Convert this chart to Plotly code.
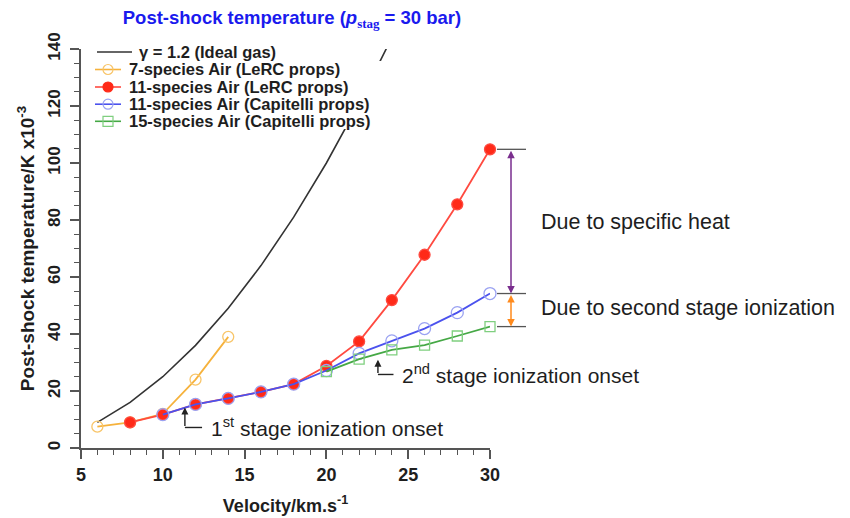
import plotly.graph_objects as go

# Post-shock temperature (thousands of K) vs shock velocity (km/s)
v_ideal = [6, 8, 10, 12, 14, 16, 18, 20, 22, 24]
t_ideal = [9, 16, 25, 36, 49, 64, 81, 100, 121, 144]

v_7sp = [6, 8, 10, 12, 14]
t_7sp = [7.5, 9.0, 12.0, 24.0, 39.0]

v_11lerc = [8, 10, 12, 14, 16, 18, 20, 22, 24, 26, 28, 30]
t_11lerc = [9.0, 11.7, 15.3, 17.4, 19.7, 22.4, 28.8, 37.4, 51.9, 67.8, 85.5, 104.8]

v_11cap = [10, 12, 14, 16, 18, 20, 22, 24, 26, 28, 30]
t_11cap = [11.7, 15.3, 17.4, 19.7, 22.4, 27.2, 33.2, 37.6, 41.9, 47.5, 54.2]

v_15cap = [20, 22, 24, 26, 28, 30]
t_15cap = [26.8, 31.2, 34.4, 36.1, 39.3, 42.6]

x_ticks = [5, 10, 15, 20, 25, 30]
y_ticks = [0, 20, 40, 60, 80, 100, 120, 140]

FONT = "Liberation Sans, Arial, sans-serif"
TXT = "#1e1e1e"
AX = "#555555"

# series styles: (name, x, y, line colour, marker symbol, marker colour, marker size)
series = [
    ("γ = 1.2 (Ideal gas)", v_ideal, t_ideal, "#333333", None, None, 0),
    ("7-species Air (LeRC props)", v_7sp, t_7sp, "#f6b23c", "circle-open", "#f8c569", 11),
    ("11-species Air (LeRC props)", v_11lerc, t_11lerc, "#ff4a40", "circle", "#ff2a18", 11),
    ("11-species Air (Capitelli props)", v_11cap, t_11cap, "#4b52ee", "circle-open", "#9aa2f2", 12),
    ("15-species Air (Capitelli props)", v_15cap, t_15cap, "#45a845", "square-open", "#7fcf7f", 10),
]

fig = go.Figure()
for name, xs, ys, lc, sym, mc, ms in series:
    if sym is None:
        fig.add_trace(go.Scatter(x=xs, y=ys, mode="lines", name=name,
                                 line=dict(color=lc, width=1.6), cliponaxis=True))
    else:
        fig.add_trace(go.Scatter(x=xs, y=ys, mode="lines+markers", name=name,
                                 line=dict(color=lc, width=1.8),
                                 marker=dict(symbol=sym, size=ms, color=mc, line=dict(width=1.3)),
                                 cliponaxis=False))

# plot area geometry in pixels
L, R, T, B = 81, 490, 49, 448
def px(p):
    return (p - L) / (R - L)
def py(p):
    return (B - p) / (B - T)

shapes = []
annotations = []

# key box (opaque, sits over the ideal-gas curve)
shapes.append(dict(type="rect", xref="paper", yref="paper", layer="above",
                   x0=px(92), x1=px(394), y0=py(129), y1=py(61),
                   fillcolor="white", line=dict(width=0)))
key_rows = [52, 69.5, 87, 104.2, 121.3]
for (name, xs, ys, lc, sym, mc, ms), yr in zip(series, key_rows):
    if sym is None:
        x0, x1, xt = 97, 132, 138
    else:
        x0, x1, xt = 95, 121, 128
    shapes.append(dict(type="line", xref="paper", yref="paper", layer="above",
                       x0=px(x0), x1=px(x1), y0=py(yr), y1=py(yr),
                       line=dict(color=lc, width=1.6)))
    if sym is not None:
        r = 5
        filled = not sym.endswith("open")
        shapes.append(dict(type="rect" if sym.startswith("square") else "circle",
                           xref="paper", yref="paper", layer="above",
                           xsizemode="pixel", ysizemode="pixel",
                           xanchor=px(108), yanchor=py(yr),
                           x0=-r, x1=r, y0=-r, y1=r,
                           fillcolor=mc if filled else "rgba(255,255,255,0)",
                           line=dict(color=mc, width=1.2)))
    annotations.append(dict(xref="paper", yref="paper", x=px(xt), y=py(yr),
                            xanchor="left", yanchor="middle", text=name, showarrow=False,
                            borderpad=0,
                            font=dict(family=FONT, size=16.5, color=TXT, weight="bold")))

# reference lines at the end values of the three 30 km/s results
for yv in (t_11lerc[-1], t_11cap[-1], t_15cap[-1]):
    shapes.append(dict(type="line", xref="paper", yref="y",
                       x0=px(497), x1=px(526), y0=yv, y1=yv,
                       line=dict(color=AX, width=1.3)))

# double-headed arrows between the end values
annotations.append(dict(xref="paper", yref="y", x=px(511), y=t_11cap[-1],
                        axref="pixel", ayref="y", ax=0, ay=t_11lerc[-1],
                        text="", showarrow=True, arrowside="end+start",
                        arrowhead=2, arrowsize=1, arrowwidth=1.5, arrowcolor="#7a2e8e"))
annotations.append(dict(xref="paper", yref="y", x=px(511), y=t_15cap[-1],
                        axref="pixel", ayref="y", ax=0, ay=t_11cap[-1],
                        text="", showarrow=True, arrowside="end+start",
                        arrowhead=2, arrowsize=1, arrowwidth=1.5, arrowcolor="#ff8a1c"))

annotations.append(dict(xref="paper", yref="y", x=px(539), y=79.3, xanchor="left",
                        yanchor="middle", text="Due to specific heat", showarrow=False,
                        font=dict(family=FONT, size=21.5, color=TXT)))
annotations.append(dict(xref="paper", yref="y", x=px(539), y=49.1, xanchor="left",
                        yanchor="middle", text="Due to second stage ionization", showarrow=False,
                        font=dict(family=FONT, size=21.5, color=TXT)))

# ionization onset markers: L-shaped pointers
def onset(tip_x, tip_y, corner_y, end_x, label_x, label):
    annotations.append(dict(xref="x", yref="y", x=tip_x, y=tip_y, axref="x", ayref="y",
                            ax=tip_x, ay=corner_y, text="", showarrow=True,
                            arrowhead=2, arrowsize=1, arrowwidth=1.4, arrowcolor="#222222"))
    shapes.append(dict(type="line", xref="x", yref="y", x0=tip_x, x1=end_x,
                       y0=corner_y, y1=corner_y, line=dict(color="#222222", width=1.4)))
    annotations.append(dict(xref="x", yref="y", x=label_x, y=corner_y, xanchor="left",
                            yanchor="middle", text=label, showarrow=False,
                            font=dict(family=FONT, size=21, color=TXT)))

onset(11.35, 14.2, 7.2, 12.4, 12.8, "1<sup>st</sup> stage ionization onset")
onset(23.15, 31.0, 25.8, 24.1, 24.5, "2<sup>nd</sup> stage ionization onset")

fig.update_layout(
    width=850, height=518,
    margin=dict(l=L, r=850 - R, t=T, b=518 - B),
    paper_bgcolor="white", plot_bgcolor="white",
    showlegend=False,
    shapes=shapes, annotations=annotations,
    title=dict(text="Post-shock temperature (<i>p</i><sub><span style=\"font-family:'Liberation Serif'\">stag</span></sub> = 30 bar)",
               xref="container", x=292 / 850, xanchor="center",
               yref="container", y=1 - 18 / 518, yanchor="middle",
               font=dict(family=FONT, size=18.5, color="#1a1aee", weight="bold")),
    xaxis=dict(range=[5, 30], tickvals=x_ticks, showgrid=False, zeroline=False,
               automargin=False,
               showline=True, linecolor=AX, linewidth=1.5,
               ticks="outside", ticklen=9, tickwidth=1.5, tickcolor=AX,
               ticklabelstandoff=1,
               minor=dict(tickvals=[v for v in range(6, 30) if v % 5], ticks="outside",
                          ticklen=5, tickwidth=1.3, tickcolor=AX, showgrid=False),
               tickfont=dict(family=FONT, size=18, color=TXT, weight="bold"),
               title=dict(text="Velocity/km.s<sup>-1</sup>", standoff=15,
                          font=dict(family=FONT, size=18, color=TXT, weight="bold"))),
    yaxis=dict(range=[0, 140], tickvals=y_ticks, showgrid=False, zeroline=False,
               automargin=False,
               showline=True, linecolor=AX, linewidth=1.5,
               ticks="outside", ticklen=9, tickwidth=1.5, tickcolor=AX,
               ticklabelstandoff=3,
               minor=dict(tickvals=[v for v in range(5, 140, 5) if v % 20], ticks="outside",
                          ticklen=5, tickwidth=1.3, tickcolor=AX, showgrid=False),
               tickangle=-90,
               tickfont=dict(family=FONT, size=17, color=TXT, weight="bold"),
               title=dict(text="Post-shock temperature/K x10<sup>-3</sup>", standoff=6,
                          font=dict(family=FONT, size=19, color=TXT, weight="bold"))),
)

fig.write_html("out.html")
